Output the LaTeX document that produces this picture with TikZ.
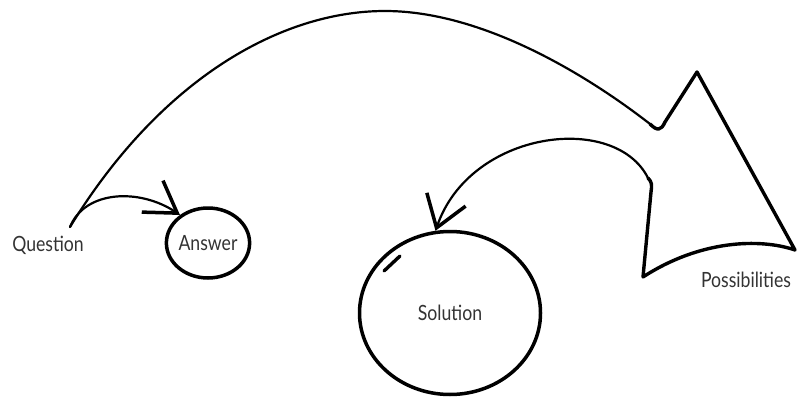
\documentclass[tikz,border=0pt]{standalone}
\usepackage{fontspec}
\usepackage{graphicx}
\setmainfont{Lato}
\usetikzlibrary{arrows.meta,shapes.geometric,calc}
\newcommand\narrow[1]{\scalebox{0.84}[1]{#1}}

\begin{document}
\begin{tikzpicture}[x=1pt, y=-1pt, line cap=round, line join=round,
  word/.style={font=\fontsize{21}{24}\selectfont, text=black!80, inner sep=0pt},
  bubble/.style={word, ellipse, draw=black, line width=3.5pt},
  pen/.style={line width=2.2pt},
  bold pen/.style={line width=3.4pt}]
\useasboundingbox (0,0) rectangle (799,398);
\node[word] (q) at (48,245) {\narrow{Question}};
\node[bubble, minimum width=78pt, minimum height=70pt] (ans) at (208,243) {\narrow{Answer}};
\node[bubble, minimum width=181pt, minimum height=163pt] (sol) at (450,313) {\narrow{Solution}};
\node[word] (poss) at (746,280) {\narrow{Possibilities}};
\coordinate (qs) at (70,227);
\coordinate (dip) at (650,124);
\coordinate (turn) at (648,178);
% question -> answer
\draw[pen, -{Straight Barb[length=30pt, width=38pt, line width=3.5pt]}]
  (qs) .. controls (85,190) and (140,188) .. (ans.135);
% big arc into the arrow
\draw[pen] (qs) .. controls (160,80) and (280,11) .. (385,11)
  .. controls (490,11) and (600,85) .. (dip);
\draw[bold pen] (dip) .. controls (657,131) and (661,131) .. (665,122) -- (697,72)
  -- (795,250) .. controls (760,238) and (700,240) .. (643,277)
  -- (651,192) .. controls (652,185) and (652,182) .. (turn);
% back to the solution
\draw[pen, -{Straight Barb[length=30pt, width=41pt, line width=3.5pt]}]
  (turn) .. controls (615,112) and (470,130) .. (sol.100);
\draw[bold pen] ($(sol.center)+(-66,-42)$) -- ++(16,-15);
\end{tikzpicture}
\end{document}
